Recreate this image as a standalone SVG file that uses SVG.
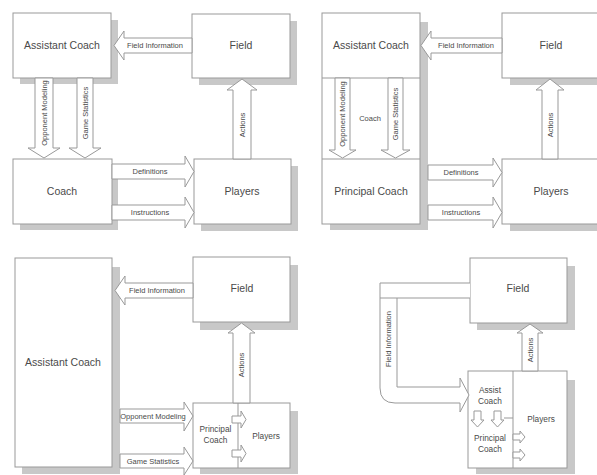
<svg xmlns="http://www.w3.org/2000/svg" width="597" height="475" viewBox="0 0 597 475">
<style>
.bg{fill:#fff}
.sh{fill:#c8c8c8}
.box{fill:#fff;stroke:#999;stroke-width:1}
.ln{fill:none;stroke:#999;stroke-width:1}
.arr{fill:#fff;stroke:#999;stroke-width:1;stroke-linejoin:miter}
.t{font-family:"Liberation Sans",Arial,sans-serif;fill:#4a4a4a;text-anchor:middle}
.big{font-size:10.5px}
.mid{font-size:8.3px}
.sm{font-size:7.5px}
</style>
<rect class="bg" x="0" y="0" width="597" height="475"/>

<!-- ================= Panel 1 ================= -->
<g id="p1-shadows">
<rect class="sh" x="20" y="20" width="98" height="64"/>
<rect class="sh" x="199" y="21" width="98" height="64"/>
<rect class="sh" x="20" y="166" width="98" height="64"/>
<rect class="sh" x="201" y="166" width="97" height="65"/>
</g>
<g id="p1-assistant-coach"><rect class="box" x="13" y="13" width="98" height="65"/><text class="t big" x="62" y="49">Assistant Coach</text></g>
<g id="p1-field"><rect class="box" x="192" y="14" width="98" height="64"/><text class="t big" x="241" y="49">Field</text></g>
<g id="p1-coach"><rect class="box" x="13" y="159" width="99" height="65"/><text class="t big" x="62" y="195">Coach</text></g>
<g id="p1-players"><rect class="box" x="194" y="159" width="97" height="65"/><text class="t big" x="242" y="195">Players</text></g>
<g id="p1-connectors">
<polygon class="arr" points="192,38 124,38 124,31 114,45.5 124,60 124,53 192,53"/>
<text class="t sm" x="155" y="48">Field Information</text>
<polygon class="arr" points="35,78 35,148 28,148 44,158 60,148 53,148 53,78"/>
<text class="t sm" transform="translate(46.5,113) rotate(-90)">Opponent Modeling</text>
<polygon class="arr" points="77,78 77,148 69,148 85,158 101,148 93,148 93,78"/>
<text class="t sm" transform="translate(87.5,113) rotate(-90)">Game Statistics</text>
<polygon class="arr" points="233,159 233,90 227,90 242,79 257,90 251,90 251,159"/>
<text class="t sm" transform="translate(244.5,125) rotate(-90)">Actions</text>
<polygon class="arr" points="112,164 185,164 185,156 194,171.5 185,187 185,179 112,179"/>
<text class="t sm" x="150" y="174">Definitions</text>
<polygon class="arr" points="112,205 185,205 185,197 194,212.5 185,228 185,220 112,220"/>
<text class="t sm" x="150" y="215">Instructions</text>
</g>

<!-- ================= Panel 2 ================= -->
<g id="p2-shadows">
<rect class="sh" x="330" y="22" width="98" height="208"/>
<rect class="sh" x="510" y="22" width="87" height="63"/>
<rect class="sh" x="510" y="167" width="87" height="64"/>
</g>
<g id="p2-coach-group">
<rect class="box" x="322" y="13" width="98" height="211"/>
<line class="ln" x1="322" y1="78" x2="420" y2="78"/>
<line class="ln" x1="322" y1="159" x2="420" y2="159"/>
<text class="t big" x="371" y="49">Assistant Coach</text>
<text class="t sm" x="370" y="121">Coach</text>
<text class="t big" x="371" y="195">Principal Coach</text>
</g>
<g id="p2-field"><rect class="box" x="502" y="13" width="96" height="65"/><text class="t big" x="551" y="49">Field</text></g>
<g id="p2-players"><rect class="box" x="502" y="159" width="96" height="65"/><text class="t big" x="551" y="195">Players</text></g>
<g id="p2-connectors">
<polygon class="arr" points="502,38 431,38 431,31 421,45.5 431,60 431,53 502,53"/>
<text class="t sm" x="466" y="48">Field Information</text>
<polygon class="arr" points="335,78 335,150 329,150 342.5,158 356,150 350,150 350,78"/>
<text class="t sm" transform="translate(345,114) rotate(-90)">Opponent Modeling</text>
<polygon class="arr" points="388,78 388,150 381,150 395.5,158 410,150 403,150 403,78"/>
<text class="t sm" transform="translate(398,114) rotate(-90)">Game Statistics</text>
<polygon class="arr" points="542,159 542,90 536,90 550,79 564,90 558,90 558,159"/>
<text class="t sm" transform="translate(552.5,125) rotate(-90)">Actions</text>
<polygon class="arr" points="428,165 493,165 493,158 502,172.5 493,187 493,180 428,180"/>
<text class="t sm" x="461" y="175">Definitions</text>
<polygon class="arr" points="428,205 493,205 493,197 502,212.5 493,228 493,220 428,220"/>
<text class="t sm" x="461" y="215">Instructions</text>
</g>

<!-- ================= Panel 3 ================= -->
<g id="p3-shadows">
<rect class="sh" x="22" y="267" width="98" height="207"/>
<rect class="sh" x="200" y="265" width="98" height="65"/>
<rect class="sh" x="200" y="411" width="98" height="63"/>
</g>
<g id="p3-assistant-coach"><rect class="box" x="15" y="258" width="97" height="209"/><text class="t big" x="63" y="366">Assistant Coach</text></g>
<g id="p3-field"><rect class="box" x="193" y="257" width="97" height="65"/><text class="t big" x="242" y="292">Field</text></g>
<g id="p3-principal-players">
<rect class="box" x="193" y="403" width="97" height="65"/>
<line class="ln" x1="238" y1="403" x2="238" y2="468"/>
<text class="t mid" x="215.5" y="432">Principal</text>
<text class="t mid" x="215.5" y="443">Coach</text>
<text class="t mid" x="266" y="439">Players</text>
</g>
<g id="p3-connectors">
<polygon class="arr" points="193,283 125,283 125,276 115,290.5 125,305 125,298 193,298"/>
<text class="t sm" x="157" y="293">Field Information</text>
<polygon class="arr" points="233,403 233,333 228,333 241.5,323 255,333 250,333 250,403"/>
<text class="t sm" transform="translate(244,365) rotate(-90)">Actions</text>
<polygon class="arr" points="120,409 184,409 184,402 193,416 184,431 184,423 120,423"/>
<text class="t sm" x="153" y="419">Opponent Modeling</text>
<polygon class="arr" points="120,454 184,454 184,447 193,461 184,475 184,468 120,468"/>
<text class="t sm" x="153" y="464">Game Statistics</text>
<polygon class="arr" points="232,416 241,416 241,411 246,419.5 241,428 241,423 232,423"/>
<polygon class="arr" points="232,450 241,450 241,445 246,453.5 241,462 241,457 232,457"/>
</g>

<!-- ================= Panel 4 ================= -->
<g id="p4-shadows">
<rect class="sh" x="477" y="266" width="98" height="64"/>
<rect class="sh" x="476" y="380" width="99" height="94"/>
</g>
<g id="p4-field"><rect class="box" x="470" y="258" width="97" height="65"/><text class="t big" x="518" y="292">Field</text></g>
<g id="p4-combined">
<rect class="box" x="468" y="371" width="99" height="97"/>
<line class="ln" x1="513" y1="371" x2="513" y2="468"/>
<text class="t mid" x="490" y="393">Assist</text>
<text class="t mid" x="490" y="404">Coach</text>
<text class="t mid" x="490" y="441">Principal</text>
<text class="t mid" x="490" y="452">Coach</text>
<text class="t mid" x="541" y="422">Players</text>
</g>
<g id="p4-connectors">
<path class="arr" d="M470,283 L380,283 L380,388 Q380,403 395,403 L460,403 L460,412 L469,395 L460,378 L460,387 L397,387 L397,298 L470,298"/>
<line class="ln" x1="380" y1="298" x2="397" y2="298"/>
<text class="t sm" transform="translate(391,339) rotate(-90)">Field Information</text>
<polygon class="arr" points="522,371 522,333 517,333 530,324 543,333 538,333 538,371"/>
<text class="t sm" transform="translate(533,350) rotate(-90)">Actions</text>
<polygon class="arr" points="474,411 474,420 471,420 477.5,427 484,420 481,420 481,411"/>
<polygon class="arr" points="494,411 494,420 491,420 497.5,427 504,420 501,420 501,411"/>
<line class="ln" x1="504" y1="418" x2="513" y2="418"/>
<polygon class="arr" points="513,434 520,434 520,431 525,437 520,443 520,440 513,440"/>
<polygon class="arr" points="513,452 520,452 520,449 525,455 520,461 520,458 513,458"/>
</g>
</svg>
